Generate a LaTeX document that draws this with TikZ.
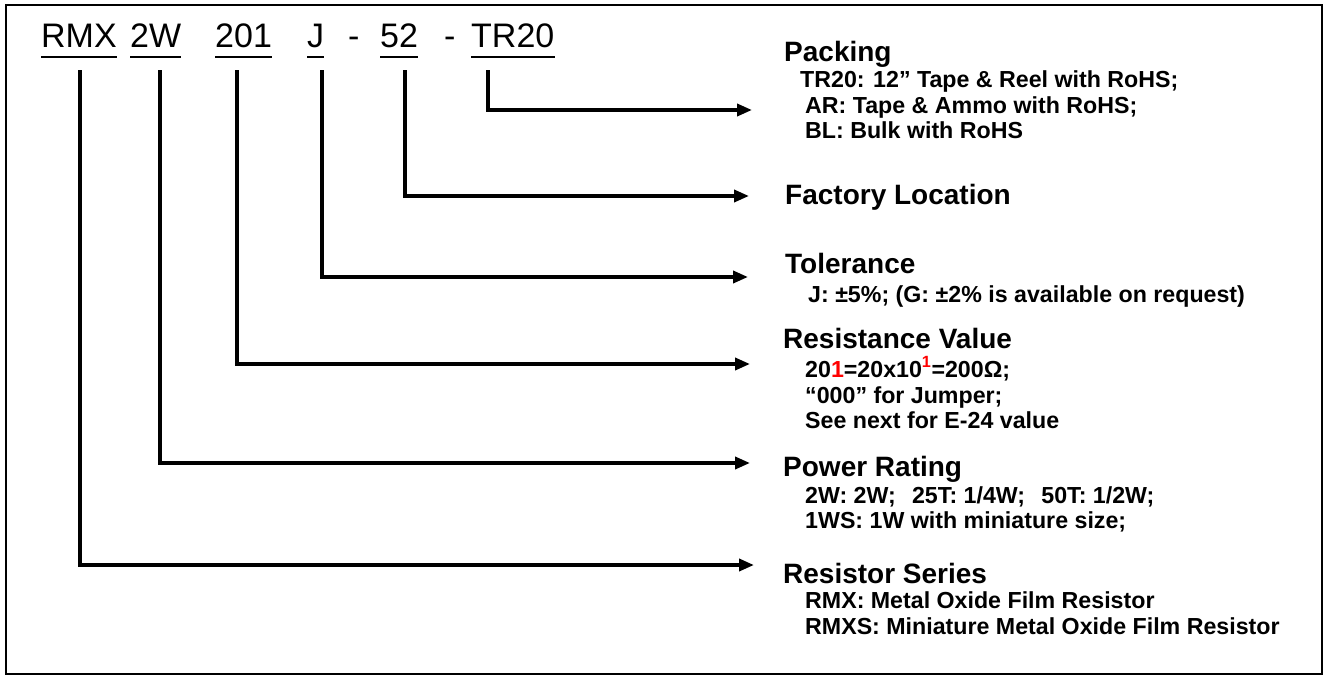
\documentclass[tikz,border=0pt]{standalone}
\usepackage{fontspec}
\setmainfont{Liberation Sans}
\usetikzlibrary{arrows.meta}
\begin{document}
\begin{tikzpicture}[x=1pt,y=-1pt,
  code/.style={anchor=base west, inner sep=0pt, font=\fontsize{34}{40}\selectfont},
  head/.style={anchor=base west, inner sep=0pt, font=\bfseries\fontsize{28}{32}\selectfont},
  sub/.style={anchor=base west, inner sep=0pt, font=\bfseries\fontsize{23.2}{25}\selectfont},
  conn/.style={line width=3.6pt, -{Triangle[length=15pt,width=12pt]}},
  uline/.style={line width=2.5pt}]
\useasboundingbox (0,0) rectangle (1327,677);
\draw[line width=2pt] (6,5) rectangle (1322,674);

% code
\node[code] (rmx) at (41,48) {RMX};
\node[code] (pw) at (130,48) {2W};
\node[code] (res) at (215,48) {201};
\node[code] (tol) at (307,48) {J};
\node[code] (d1) at (348,48) {-};
\node[code] (fac) at (380,48) {52};
\node[code] (d2) at (444,48) {-};
\node[code] (pack) at (471,48) {TR20};
\foreach \n in {rmx,pw,res,tol,fac,pack}
  \draw[uline] ([yshift=-9pt]\n.base west) -- ([yshift=-9pt]\n.base east);

% descriptions
\node[head] (hpack) at (784,62) {Packing};
\node[sub] (p1) at (800,88) {TR20: 12” Tape \& Reel with RoHS;};
\node[sub] (p2) at (805,113) {AR: Tape \& Ammo with RoHS;};
\node[sub] (p3) at (805,138) {BL: Bulk with RoHS};
\node[head] (hfac) at (785,204) {Factory Location};
\node[head] (htol) at (785,273) {Tolerance};
\node[sub] (t1) at (808,302) {J: ±5\%; (G: ±2\% is available on request)};
\node[head] (hres) at (783,348) {Resistance Value};
\node[sub] (r1) at (805,377) {20\textcolor{red}{1}=20x10\textsuperscript{\textcolor{red}{1}}=200Ω;};
\node[sub] (r2) at (805,403) {“000” for Jumper;};
\node[sub] (r3) at (805,428) {See next for E-24 value};
\node[head] (hpw) at (783,476) {Power Rating};
\node[sub] (w1) at (805,503) {2W: 2W;\hspace{0.7em}25T: 1/4W;\hspace{0.7em}50T: 1/2W;};
\node[sub] (w2) at (805,528) {1WS: 1W with miniature size;};
\node[head] (hser) at (783,583) {Resistor Series};
\node[sub] (s1) at (805,608) {RMX: Metal Oxide Film Resistor};
\node[sub] (s2) at (805,634) {RMXS: Miniature Metal Oxide Film Resistor};

% connector coordinates
\coordinate (c6) at (488,70);
\coordinate (c5) at (405,70);
\coordinate (c4) at (322,70);
\coordinate (c3) at (237,70);
\coordinate (c2) at (160,70);
\coordinate (c1) at (80,70);
\coordinate (e6) at (752,110);
\coordinate (e5) at (749,196);
\coordinate (e4) at (748,277);
\coordinate (e3) at (750,364);
\coordinate (e2) at (750,463);
\coordinate (e1) at (754,565);
\draw[conn] (c6) |- (e6);
\draw[conn] (c5) |- (e5);
\draw[conn] (c4) |- (e4);
\draw[conn] (c3) |- (e3);
\draw[conn] (c2) |- (e2);
\draw[conn] (c1) |- (e1);
\end{tikzpicture}
\end{document}
